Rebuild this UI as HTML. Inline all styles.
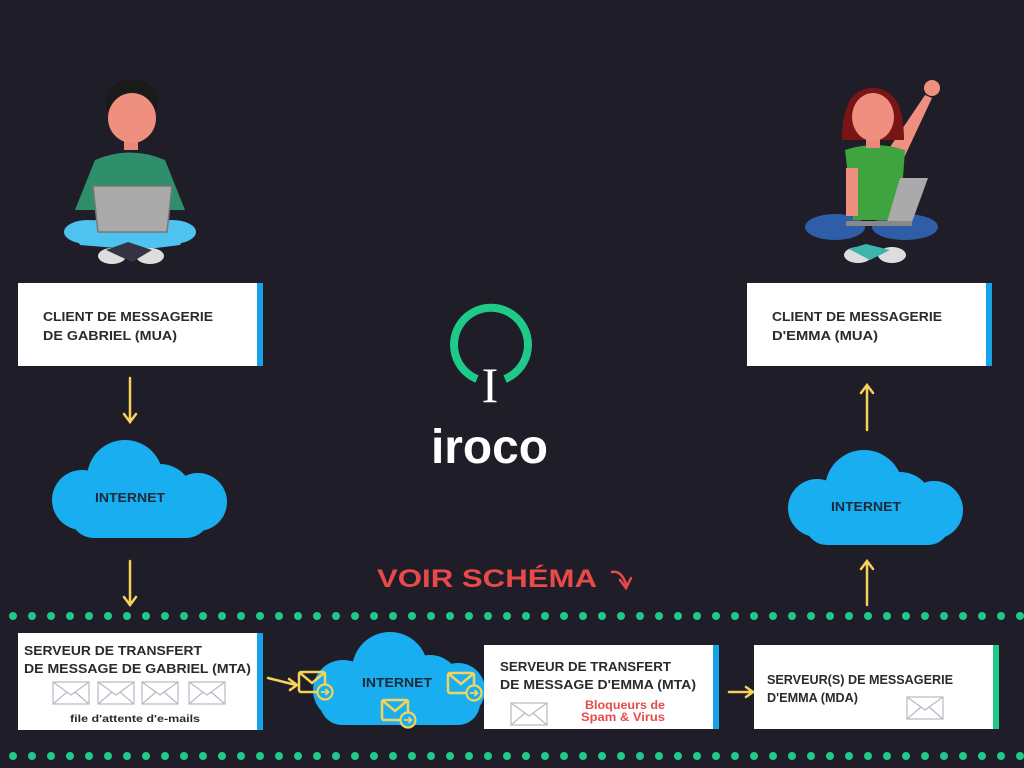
<!DOCTYPE html>
<html><head><meta charset="utf-8"><style>
html,body{margin:0;padding:0;background:#1f1d27;}
svg{display:block}
text{font-family:"Liberation Sans",sans-serif;font-weight:bold;}
</style></head><body>
<svg width="1024" height="768" viewBox="0 0 1024 768" xmlns="http://www.w3.org/2000/svg">
<defs>
<pattern id="dots" x="4" y="6" width="19" height="20" patternUnits="userSpaceOnUse"><circle cx="9" cy="10" r="4" fill="#1fc98a"/></pattern>
<g id="env"><rect x="0" y="0" width="36" height="22" fill="#fff" stroke="#b8b8c4" stroke-width="1.2"/><path d="M0 0 L18 13 L36 0 M0 22 L14 10 M36 22 L22 10" fill="none" stroke="#b8b8c4" stroke-width="1.2"/></g>
<g id="yenv"><rect x="0" y="0" width="26" height="20" rx="2" fill="none" stroke="#f5d35a" stroke-width="2.5"/><path d="M1 1 L13 11 L25 1" fill="none" stroke="#f5d35a" stroke-width="2.5"/><circle cx="26" cy="20" r="7.5" fill="#19aef0" stroke="#f5d35a" stroke-width="2.2"/><path d="M22 20 H29 M26.5 17 L29.5 20 L26.5 23" fill="none" stroke="#f5d35a" stroke-width="1.8"/></g>
</defs>
<rect width="1024" height="768" fill="#1f1d27"/>

<rect x="0" y="606" width="1024" height="20" fill="url(#dots)"/>
<rect x="0" y="746" width="1024" height="20" fill="url(#dots)"/>

<!-- Gabriel person -->
<g>
<ellipse cx="88" cy="232" rx="24" ry="12" fill="#4fc3ef"/>
<ellipse cx="172" cy="232" rx="24" ry="12" fill="#4fc3ef"/>
<path d="M70 225 Q130 210 190 225 L180 245 L140 250 L80 245 Z" fill="#4fc3ef"/>
<ellipse cx="112" cy="256" rx="14" ry="8" fill="#ddd"/>
<ellipse cx="150" cy="256" rx="14" ry="8" fill="#ddd"/>
<path d="M106 250 L128 242 L152 250 L132 262 Z" fill="#334"/>
<path d="M95 160 Q130 145 165 160 L185 210 L75 210 Z" fill="#2e8f6a"/>
<rect x="124" y="136" width="14" height="14" fill="#e8897a"/>
<path d="M106 105 Q106 80 132 80 Q158 80 158 105 L156 112 L108 112 Z" fill="#1a1a1a"/>
<ellipse cx="132" cy="118" rx="24" ry="25" fill="#ee8f7f"/>
<path d="M93 186 L172 186 L167 232 L98 232 Z" fill="#aaa" stroke="#777" stroke-width="1.5"/>
</g>

<!-- Emma person -->
<g>
<ellipse cx="835" cy="227" rx="30" ry="13" fill="#2f5ea8"/>
<ellipse cx="905" cy="227" rx="33" ry="13" fill="#2f5ea8"/>
<ellipse cx="858" cy="255" rx="14" ry="8" fill="#ddd"/>
<ellipse cx="892" cy="255" rx="14" ry="8" fill="#ddd"/>
<path d="M849 249 L866 244 L890 250 L870 260 Z" fill="#3cb5aa"/>
<path d="M888 150 L925 95 L932 98 L903 160 Z" fill="#ee8f7f"/>
<circle cx="932" cy="88" r="8" fill="#ee8f7f"/>
<path d="M845 150 Q875 140 905 150 L900 220 L853 220 Z" fill="#3fa33f"/>
<rect x="846" y="168" width="12" height="48" fill="#ee8f7f"/>
<path d="M842 140 Q842 88 873 88 Q904 88 904 140 Z" fill="#7a1515"/>
<rect x="866" y="136" width="14" height="12" fill="#e8897a"/>
<ellipse cx="873" cy="117" rx="21" ry="24" fill="#ee8f7f"/>
<path d="M900 178 L928 178 L912 222 L887 222 Z" fill="#aaa"/>
<rect x="846" y="221" width="66" height="5" fill="#888"/>
</g>

<!-- MUA boxes -->
<rect x="18" y="283" width="245" height="83" fill="#fff"/>
<rect x="257" y="283" width="6" height="83" fill="#17a3e8"/>
<text x="43" y="321" font-size="13" fill="#2a2a30" textLength="170" lengthAdjust="spacingAndGlyphs">CLIENT DE MESSAGERIE</text>
<text x="43" y="340" font-size="13" fill="#2a2a30" textLength="134" lengthAdjust="spacingAndGlyphs">DE GABRIEL (MUA)</text>

<rect x="747" y="283" width="245" height="83" fill="#fff"/>
<rect x="986" y="283" width="6" height="83" fill="#17a3e8"/>
<text x="772" y="321" font-size="13" fill="#2a2a30" textLength="170" lengthAdjust="spacingAndGlyphs">CLIENT DE MESSAGERIE</text>
<text x="772" y="340" font-size="13" fill="#2a2a30" textLength="106" lengthAdjust="spacingAndGlyphs">D'EMMA (MUA)</text>

<!-- arrows -->
<g stroke="#f5d35a" stroke-width="2.5" fill="none" stroke-linecap="round">
<path d="M130 378 V421 M124 414 L130 422 L136 414"/>
<path d="M130 561 V604 M124 597 L130 605 L136 597"/>
<path d="M867 430 V386 M861 393 L867 385 L873 393"/>
<path d="M867 605 V562 M861 569 L867 561 L873 569"/>
<path d="M268 678 L296 685 M289 679 L297 685 L290 690"/>
<path d="M340 688 L356 697 M348 698 L357 698 L354 690"/>
<path d="M420 713 L437 702 M429 701 L438 701 L436 709"/>
<path d="M485 693 L495 709 M488 708 L496 711 L497 703"/>
<path d="M729 692 H752 M746 687 L753 692 L746 697"/>
</g>

<!-- clouds -->
<g fill="#19aef0">
<circle cx="125" cy="478" r="38"/><circle cx="160" cy="497" r="33"/><circle cx="82" cy="500" r="30"/><circle cx="198" cy="502" r="29"/>
<rect x="70" y="490" width="140" height="48" rx="24"/>
</g>
<text x="95" y="502" font-size="12.5" fill="#1b2a3a" textLength="70" lengthAdjust="spacingAndGlyphs">INTERNET</text>

<g fill="#19aef0">
<circle cx="864" cy="489" r="39"/><circle cx="900" cy="505" r="33"/><circle cx="817" cy="508" r="29"/><circle cx="934" cy="510" r="29"/>
<rect x="805" y="500" width="145" height="45" rx="22"/>
</g>
<text x="831" y="511" font-size="12.5" fill="#1b2a3a" textLength="70" lengthAdjust="spacingAndGlyphs">INTERNET</text>

<g fill="#19aef0">
<circle cx="390" cy="670" r="38"/><circle cx="430" cy="685" r="30"/><circle cx="343" cy="690" r="30"/><circle cx="458" cy="690" r="27"/>
<rect x="320" y="680" width="160" height="45" rx="22"/>
</g>
<text x="362" y="687" font-size="12.5" fill="#1b2a3a" textLength="70" lengthAdjust="spacingAndGlyphs">INTERNET</text>
<use href="#yenv" x="299" y="672"/>
<use href="#yenv" x="382" y="700"/>
<use href="#yenv" x="448" y="673"/>

<!-- MTA Gabriel -->
<rect x="18" y="633" width="245" height="97" fill="#fff"/>
<rect x="257" y="633" width="6" height="97" fill="#17a3e8"/>
<text x="24" y="655" font-size="13" fill="#2a2a30" textLength="178" lengthAdjust="spacingAndGlyphs">SERVEUR DE TRANSFERT</text>
<text x="24" y="673" font-size="13" fill="#2a2a30" textLength="227" lengthAdjust="spacingAndGlyphs">DE MESSAGE DE GABRIEL (MTA)</text>
<use href="#env" x="53" y="682"/><use href="#env" x="98" y="682"/><use href="#env" x="142" y="682"/><use href="#env" x="189" y="682"/>
<text x="70" y="722" font-size="10.5" fill="#2a2a30" textLength="130" lengthAdjust="spacingAndGlyphs">file d'attente d'e-mails</text>

<!-- MTA Emma -->
<rect x="484" y="645" width="235" height="84" fill="#fff"/>
<rect x="713" y="645" width="6" height="84" fill="#17a3e8"/>
<text x="500" y="671" font-size="13" fill="#2a2a30" textLength="171" lengthAdjust="spacingAndGlyphs">SERVEUR DE TRANSFERT</text>
<text x="500" y="689" font-size="13" fill="#2a2a30" textLength="196" lengthAdjust="spacingAndGlyphs">DE MESSAGE D'EMMA  (MTA)</text>
<use href="#env" x="511" y="703"/>
<text x="585" y="709" font-size="11.5" fill="#e84a4a" textLength="80" lengthAdjust="spacingAndGlyphs">Bloqueurs de</text>
<text x="581" y="721" font-size="11.5" fill="#e84a4a" textLength="84" lengthAdjust="spacingAndGlyphs">Spam &amp; Virus</text>

<!-- MDA -->
<rect x="754" y="645" width="245" height="84" fill="#fff"/>
<rect x="993" y="645" width="6" height="84" fill="#1fc98a"/>
<text x="767" y="684" font-size="13" fill="#2a2a30" textLength="186" lengthAdjust="spacingAndGlyphs">SERVEUR(S) DE MESSAGERIE</text>
<text x="767" y="702" font-size="13" fill="#2a2a30" textLength="91" lengthAdjust="spacingAndGlyphs">D'EMMA (MDA)</text>
<use href="#env" x="907" y="697"/>

<!-- logo -->
<path d="M477 379 A37 37 0 1 1 505 379" fill="none" stroke="#1fc98a" stroke-width="8"/>
<text x="490" y="402" font-size="50" fill="#fff" text-anchor="middle" style="font-family:'Liberation Serif',serif;font-weight:normal">I</text>
<text x="431" y="463" font-size="48" fill="#fff" textLength="117" lengthAdjust="spacingAndGlyphs">iroco</text>

<text x="377" y="587" font-size="25" fill="#e84a4a" textLength="220" lengthAdjust="spacingAndGlyphs">VOIR SCHÉMA</text>
<path d="M612 572 Q621 570 626 584 M620 580 L626 588 L631 578" fill="none" stroke="#e84a4a" stroke-width="2.5" stroke-linecap="round"/>
</svg>
</body></html>
